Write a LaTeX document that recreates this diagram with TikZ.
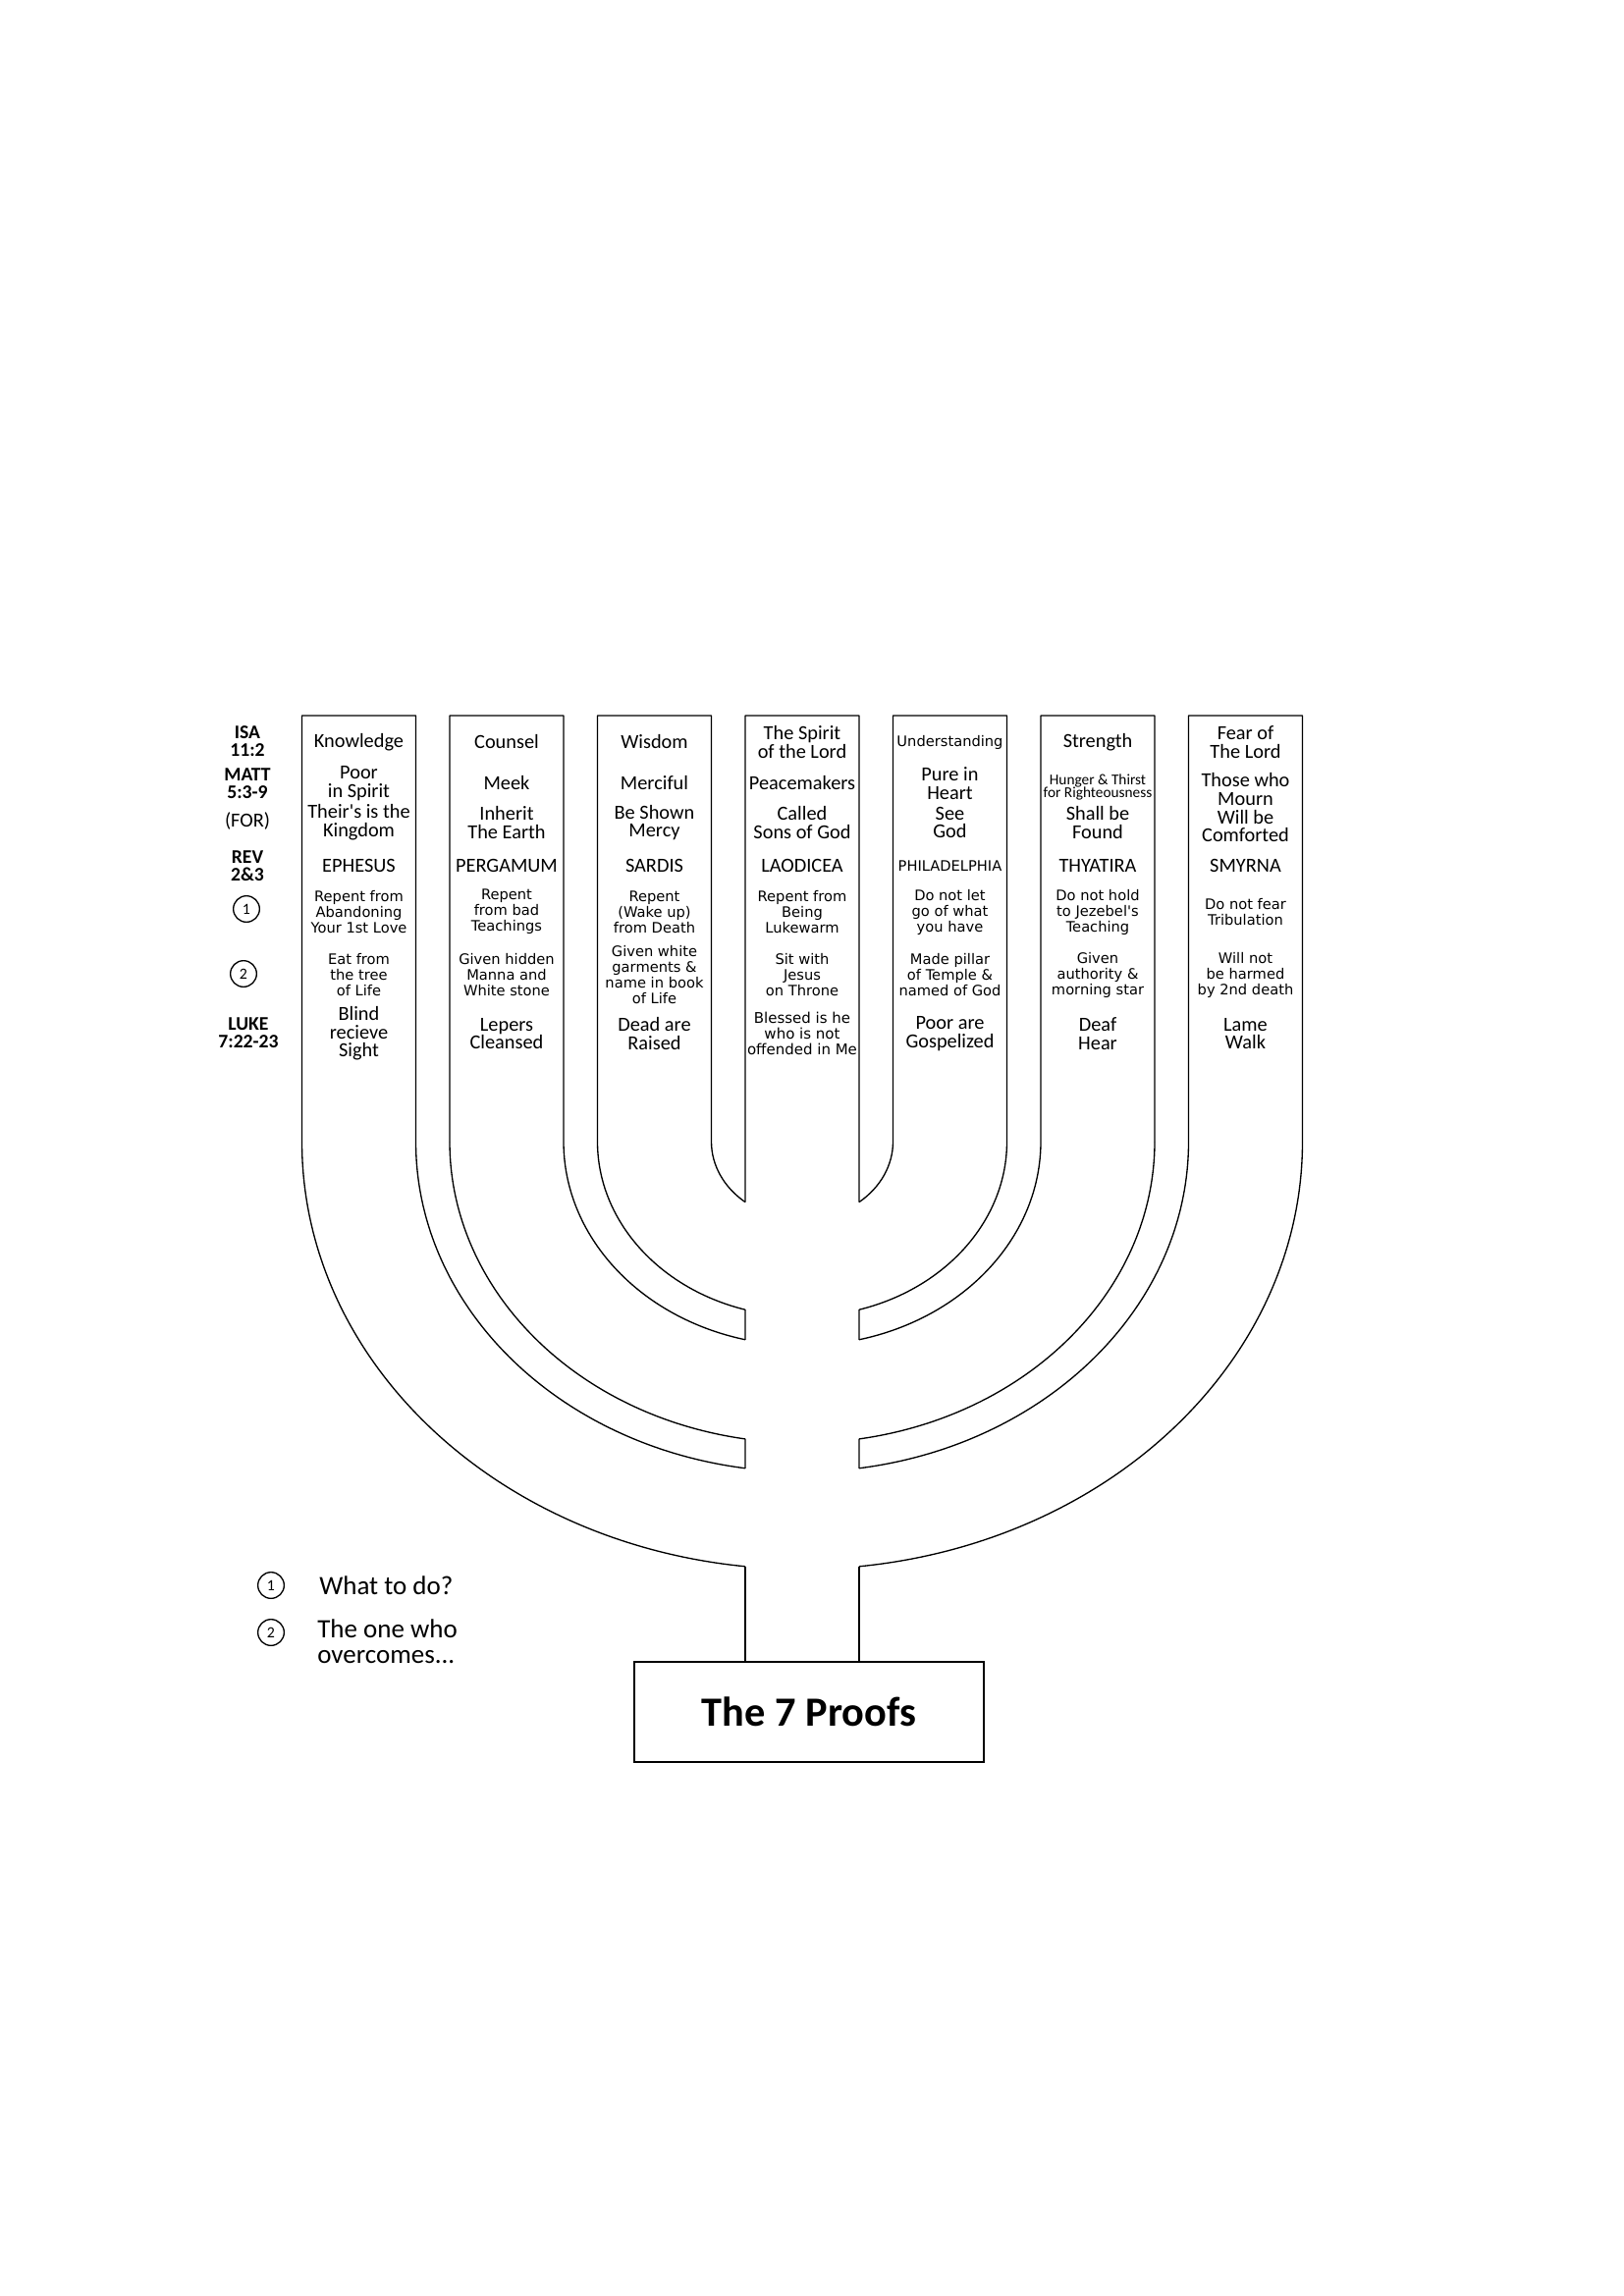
\documentclass[tikz,border=0pt]{standalone}
\usepackage{fontspec}
\setmainfont{Carlito}
\newfontfamily\vfont{DejaVu Sans}
\usetikzlibrary{calc}
\tikzset{lin/.style={line width=0.8pt,line join=round},
  txt/.style={font=\fontsize{12.2}{11.2}\selectfont,align=center,inner sep=0pt},
  sm/.style={font=\vfont\fontsize{8.8}{9.6}\selectfont,align=center,inner sep=0pt},
  smw/.style={font=\vfont\fontsize{8.8}{9.6}\selectfont,align=center,inner sep=0pt},
  tiny/.style={font=\fontsize{9.2}{8.2}\selectfont,align=center,inner sep=0pt},
  ref/.style={font=\bfseries\fontsize{11.8}{11}\selectfont,align=center,inner sep=0pt},
  num/.style={circle,draw,line width=0.8pt,minimum size=16pt,inner sep=0pt,font=\fontsize{9.5}{9.5}\selectfont},
  leg/.style={font=\fontsize{16.2}{15.6}\selectfont,align=left,inner sep=0pt,anchor=west}}

\begin{document}
\begin{tikzpicture}[x=0.6pt,y=-0.6pt]
\useasboundingbox (0,0) rectangle (1654,2339);
% arms of the lamp
\foreach \k in {1,2,3}{
  \pgfmathsetmacro\ro{(4-\k)*150.5+58}
  \pgfmathsetmacro\ri{(4-\k)*150.5-58}
  \pgfmathsetmacro\yo{0.855*\ro}
  \pgfmathsetmacro\yi{0.855*\ri}
  \pgfmathsetmacro\ao{acos(58/\ro)}
  \pgfmathsetmacro\ai{acos(58/\ri)}
  \draw[lin] (817-\ro,1163) arc[start angle=180,end angle=180-\ao,x radius=\ro,y radius=\yo] coordinate (lo\k);
  \draw[lin] (817-\ro,1163) -- (817-\ro,729) -- (817-\ri,729) -- (817-\ri,1163)
    arc[start angle=180,end angle=180-\ai,x radius=\ri,y radius=\yi] coordinate (li\k);
  \draw[lin] (817+\ro,1163) arc[start angle=0,end angle=\ao,x radius=\ro,y radius=\yo] coordinate (ro\k);
  \draw[lin] (817+\ro,1163) -- (817+\ro,729) -- (817+\ri,729) -- (817+\ri,1163)
    arc[start angle=0,end angle=\ai,x radius=\ri,y radius=\yi] coordinate (ri\k);
}
% middle column
\draw[lin] (li3) -- (759,729) -- (875,729) -- (ri3);
\draw[lin] (li1) -- (lo2);
\draw[lin] (li2) -- (lo3);
\draw[lin] (ri1) -- (ro2);
\draw[lin] (ri2) -- (ro3);

% base
\node[draw,line width=0.8pt,minimum width=213.6pt,minimum height=61.2pt,
  font=\bfseries\fontsize{25.4}{25.4}\selectfont] (proofs) at (824,1744) {The 7 Proofs};
\draw[lin] (lo1) -- (lo1 |- proofs.north);
\draw[lin] (ro1) -- (ro1 |- proofs.north);

% references
\node[ref] (isa) at (252,755) {ISA\\11:2};
\node[ref] (matt) at (252,798) {MATT\\5:3-9};
\node[txt] (for) at (252,836) {(FOR)};
\node[ref] (rev) at (252,882) {REV\\2\&3};
\node[num] (n1) at (251,926) {1};
\node[num] (n2) at (248,992) {2};
\node[ref] (luke) at (253,1052) {LUKE\\7:22-23};

% gifts
\foreach \k/\t in {1/Knowledge,2/Counsel,3/Wisdom,4/{The Spirit\\of the Lord},6/Strength,7/{Fear of\\The Lord}}
  \node[txt] (gift\k) at ({817+(\k-4)*150.5},756) {\t};
\node[smw] (gift5) at (967.5,756) {Understanding};
% beatitudes
\foreach \k/\t in {1/{Poor\\in Spirit},2/Meek,3/Merciful,4/Peacemakers,5/{Pure in\\Heart}}
  \node[txt] (beat\k) at ({817+(\k-4)*150.5},798) {\t};
\node[tiny] (beat6) at (1118,802) {Hunger \& Thirst\\for Righteousness};
\node[txt] (beat7) at (1268.5,823) {Those who\\Mourn\\Will be\\Comforted};
\foreach \k/\t in {1/{Their\textquotesingle s is the\\Kingdom},2/{Inherit\\The Earth},3/{Be Shown\\Mercy},4/{Called\\Sons of God},5/{See\\God},6/{Shall be\\Found}}
  \node[txt] (for\k) at ({817+(\k-4)*150.5},838) {\t};
% churches
\foreach \k/\t in {1/EPHESUS,2/PERGAMUM,3/SARDIS,4/LAODICEA,6/THYATIRA,7/SMYRNA}
  \node[txt] (church\k) at ({817+(\k-4)*150.5},882) {\t};
\node[smw] (church5) at (967.5,882) {PHILADELPHIA};
\foreach \k/\t in {1/{Repent from\\Abandoning\\Your 1st Love},2/{Repent\\from bad\\Teachings},3/{Repent\\(Wake up)\\from Death},4/{Repent from\\Being\\Lukewarm},5/{Do not let\\go of what\\you have},6/{Do not hold\\to Jezebel\textquotesingle s\\Teaching},7/{Do not fear\\Tribulation}}
  \node[sm] (todo\k) at ({817+(\k-4)*150.5},929) {\t};
\foreach \k/\t in {1/{Eat from\\the tree\\of Life},2/{Given hidden\\Manna and\\White stone},3/{Given white\\garments \&\\name in book\\of Life},4/{Sit with\\Jesus\\on Throne},5/{Made pillar\\of Temple \&\\named of God},6/{Given\\authority \&\\morning star},7/{Will not\\be harmed\\by 2nd death}}
  \node[sm] (over\k) at ({817+(\k-4)*150.5},993) {\t};
% signs
\foreach \k/\t in {1/{Blind\\recieve\\Sight},2/{Lepers\\Cleansed},3/{Dead are\\Raised},5/{Poor are\\Gospelized},6/{Deaf\\Hear},7/{Lame\\Walk}}
  \node[txt] (sign\k) at ({817+(\k-4)*150.5},1053) {\t};
\node[smw,font=\vfont\fontsize{9}{9.6}\selectfont] (sign4) at (817,1053) {Blessed is he\\who is not\\offended in Me};

% legend
\node[num] (k1) at (276,1615) {1};
\node[leg] (what) at (325,1615) {What to do?};
\node[num] (k2) at (276,1663) {2};
\node[leg] (one) at (323,1672) {The one who\\overcomes...};
\end{tikzpicture}
\end{document}
